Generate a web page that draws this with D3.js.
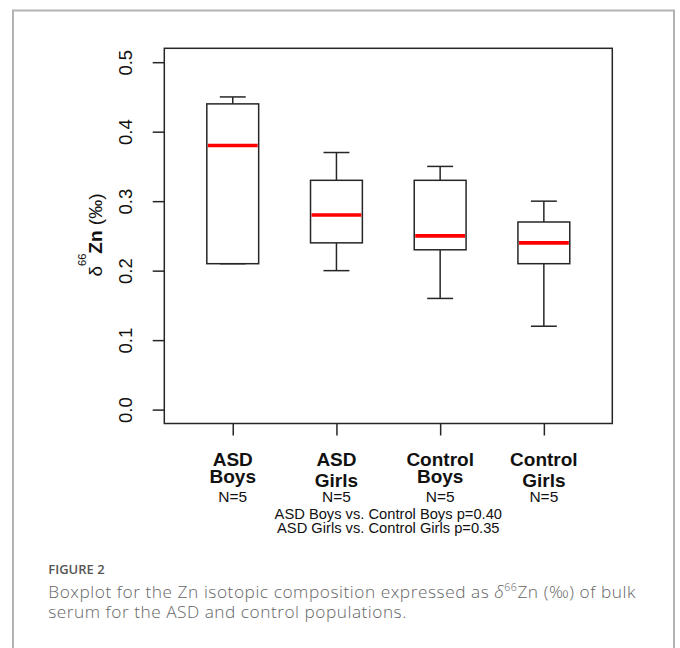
<!DOCTYPE html>
<html>
<head>
<meta charset="utf-8">
<script src="https://cdn.jsdelivr.net/npm/d3@7"></script>
<style>
  html, body { margin: 0; padding: 0; background: #fff; }
  svg { display: block; }
</style>
</head>
<body>
<svg id="chart" width="680" height="648"></svg>
<script>
// ---- data ----
const groupLine1 = ["ASD", "ASD", "Control", "Control"];
const groupLine2 = ["Boys", "Girls", "Boys", "Girls"];
const nLabels = ["N=5", "N=5", "N=5", "N=5"];
const whiskerLow  = [0.21, 0.20, 0.16, 0.12];
const q1          = [0.21, 0.24, 0.23, 0.21];
const medians     = [0.38, 0.28, 0.25, 0.24];
const q3          = [0.44, 0.33, 0.33, 0.27];
const whiskerHigh = [0.45, 0.37, 0.35, 0.30];
const yTicks = [0.0, 0.1, 0.2, 0.3, 0.4, 0.5];
const yDomain = [0, 0.5];
const pLines = ["ASD Boys vs. Control Boys p=0.40", "ASD Girls vs. Control Girls p=0.35"];
const figLabel = "FIGURE 2";

const groups = groupLine1.map((d, i) => i);
const boxes = groups.map(i => ({
  i, lo: whiskerLow[i], q1: q1[i], med: medians[i], q3: q3[i], hi: whiskerHigh[i]
}));

const svg = d3.select("#chart");
const font = "'Liberation Sans', Arial, Helvetica, sans-serif";
const ink = "#262626";

// outer frame
svg.append("rect").attr("x", 13).attr("y", 10.5).attr("width", 661).attr("height", 700)
  .attr("fill", "none").attr("stroke", "#b3b3b3").attr("stroke-width", 2);

// plot region
const L = 164.3, R = 612.3, T = 48.3, B = 423.5;
const ext = (yDomain[1] - yDomain[0]) * 0.04;
const y = d3.scaleLinear().domain([yDomain[0] - ext, yDomain[1] + ext]).range([B, T]);
const x = d3.scalePoint().domain(groups).range([L, R]).padding(0.66);
const step = x.step();
const boxW = step * 0.5;
const capW = boxW * 0.5;

// box around plot
svg.append("rect").attr("x", L).attr("y", T).attr("width", R - L).attr("height", B - T)
  .attr("fill", "none").attr("stroke", ink).attr("stroke-width", 1.5);

// y axis
const yAxis = d3.axisLeft(y).tickValues(yTicks).tickSize(11.6).tickFormat(d3.format(".1f"));
const ya = svg.append("g").attr("transform", `translate(${L},0)`).call(yAxis);
ya.select(".domain").remove();
ya.selectAll(".tick line").attr("stroke", ink).attr("stroke-width", 1.5);
ya.selectAll(".tick text").remove();
ya.selectAll(".tick").append("text")
  .attr("transform", "translate(-32.6,0) rotate(-90)")
  .attr("text-anchor", "middle")
  .attr("fill", "#111")
  .attr("font-family", font).attr("font-size", 18.5)
  .text(d => d3.format(".1f")(d));

// x axis ticks
const xAxis = d3.axisBottom(x).tickSize(12).tickFormat("");
const xa = svg.append("g").attr("transform", `translate(0,${B})`).call(xAxis);
xa.select(".domain").remove();
xa.selectAll(".tick line").attr("stroke", ink).attr("stroke-width", 1.5);

// whiskers
const g = svg.append("g");
g.selectAll(".wup").data(boxes).join("line")
  .attr("x1", d => x(d.i)).attr("x2", d => x(d.i))
  .attr("y1", d => y(d.hi)).attr("y2", d => y(d.q3))
  .attr("stroke", ink).attr("stroke-width", 1.5);
g.selectAll(".wdn").data(boxes).join("line")
  .attr("x1", d => x(d.i)).attr("x2", d => x(d.i))
  .attr("y1", d => y(d.q1)).attr("y2", d => y(d.lo))
  .attr("stroke", ink).attr("stroke-width", 1.5);
g.selectAll(".capHi").data(boxes).join("line")
  .attr("x1", d => x(d.i) - capW / 2).attr("x2", d => x(d.i) + capW / 2)
  .attr("y1", d => y(d.hi)).attr("y2", d => y(d.hi))
  .attr("stroke", ink).attr("stroke-width", 1.5);
g.selectAll(".capLo").data(boxes).join("line")
  .attr("x1", d => x(d.i) - capW / 2).attr("x2", d => x(d.i) + capW / 2)
  .attr("y1", d => y(d.lo)).attr("y2", d => y(d.lo))
  .attr("stroke", ink).attr("stroke-width", 1.5);
// boxes
g.selectAll(".box").data(boxes).join("rect")
  .attr("x", d => x(d.i) - boxW / 2).attr("width", boxW)
  .attr("y", d => y(d.q3)).attr("height", d => y(d.q1) - y(d.q3))
  .attr("fill", "#fff").attr("stroke", ink).attr("stroke-width", 1.5);
// medians
g.selectAll(".med").data(boxes).join("line")
  .attr("x1", d => x(d.i) - boxW / 2 + 1).attr("x2", d => x(d.i) + boxW / 2 - 1)
  .attr("y1", d => y(d.med)).attr("y2", d => y(d.med))
  .attr("stroke", "#ff0000").attr("stroke-width", 3.6);

// x labels
const lab = svg.append("g").attr("font-family", font).attr("fill", "#111").attr("text-anchor", "middle");
groups.forEach(i => {
  const cx = x(i);
  lab.append("text").attr("x", cx).attr("y", 466).attr("font-size", 19).attr("font-weight", "bold").text(groupLine1[i]);
  const hasDesc = /[gjpqy]/.test(groupLine2[i]);
  lab.append("text").attr("x", cx).attr("y", hasDesc ? 482.5 : 486.8).attr("font-size", 19).attr("font-weight", "bold").text(groupLine2[i]);
  lab.append("text").attr("x", cx).attr("y", 501.7).attr("font-size", 15.5).text(nLabels[i]);
});
pLines.forEach((t, k) => {
  lab.append("text").attr("x", (L + R) / 2).attr("y", 518.5 + k * 14).attr("font-size", 14.7).text(t);
});

// y label
const yl = svg.append("text")
  .attr("transform", "translate(101.5,235) rotate(-90)")
  .attr("text-anchor", "middle")
  .attr("font-family", font).attr("font-size", 19).attr("fill", "#111");
yl.append("tspan").text("δ");
yl.append("tspan").attr("font-size", 11).attr("dy", -15.5).text("66");
yl.append("tspan").attr("font-weight", "bold").attr("dy", 15.5).text("Zn");
yl.append("tspan").text(" (‰)");

// caption
const cap = svg.append("g").attr("font-family", "'Open Sans', 'Noto Sans', sans-serif");
cap.append("text").attr("x", 48.3).attr("y", 574.3).attr("font-size", 13).attr("font-weight", 600)
  .attr("fill", "#555").text(figLabel);
const c1 = cap.append("text").attr("x", 48.3).attr("y", 597.7).attr("font-size", 17.3).attr("font-weight", 300).attr("fill", "#666")
  .attr("textLength", 587).attr("lengthAdjust", "spacing");
c1.append("tspan").text("Boxplot for the Zn isotopic composition expressed as ");
c1.append("tspan").attr("font-style", "italic").text("δ");
c1.append("tspan").attr("font-size", 10.5).attr("dy", -6.5).text("66");
c1.append("tspan").attr("dy", 6.5).text("Zn (‰) of bulk");
cap.append("text").attr("x", 48.3).attr("y", 618.3).attr("font-size", 17.3).attr("font-weight", 300).attr("fill", "#666")
  .attr("textLength", 358).attr("lengthAdjust", "spacing")
  .text("serum for the ASD and control populations.");
</script>
</body>
</html>
